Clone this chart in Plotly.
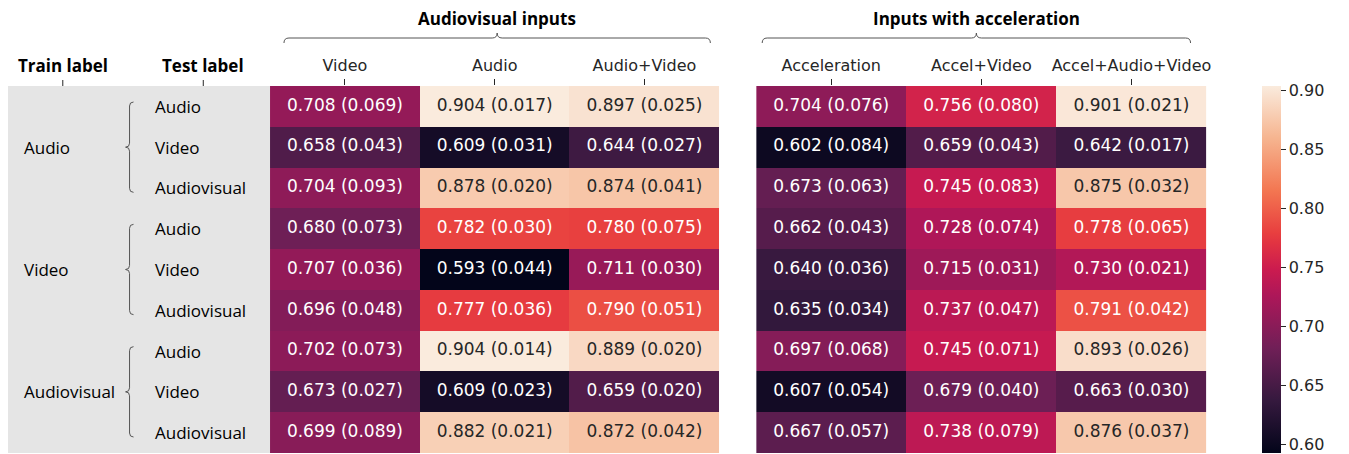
import plotly.graph_objects as go

# ---------------- data ----------------
cols_av = ["Video", "Audio", "Audio+Video"]
cols_acc = ["Acceleration", "Accel+Video", "Accel+Audio+Video"]
train_labels = ["Audio", "Video", "Audiovisual"]
test_labels = ["Audio", "Video", "Audiovisual"]
group_titles = ["Audiovisual inputs", "Inputs with acceleration"]

mean_av = [
    [0.708, 0.904, 0.897],
    [0.658, 0.609, 0.644],
    [0.704, 0.878, 0.874],
    [0.680, 0.782, 0.780],
    [0.707, 0.593, 0.711],
    [0.696, 0.777, 0.790],
    [0.702, 0.904, 0.889],
    [0.673, 0.609, 0.659],
    [0.699, 0.882, 0.872],
]
sd_av = [
    [0.069, 0.017, 0.025],
    [0.043, 0.031, 0.027],
    [0.093, 0.020, 0.041],
    [0.073, 0.030, 0.075],
    [0.036, 0.044, 0.030],
    [0.048, 0.036, 0.051],
    [0.073, 0.014, 0.020],
    [0.027, 0.023, 0.020],
    [0.089, 0.021, 0.042],
]
mean_acc = [
    [0.704, 0.756, 0.901],
    [0.602, 0.659, 0.642],
    [0.673, 0.745, 0.875],
    [0.662, 0.728, 0.778],
    [0.640, 0.715, 0.730],
    [0.635, 0.737, 0.791],
    [0.697, 0.745, 0.893],
    [0.607, 0.679, 0.663],
    [0.667, 0.738, 0.876],
]
sd_acc = [
    [0.076, 0.080, 0.021],
    [0.084, 0.043, 0.017],
    [0.063, 0.083, 0.032],
    [0.043, 0.074, 0.065],
    [0.036, 0.031, 0.021],
    [0.034, 0.047, 0.042],
    [0.068, 0.071, 0.026],
    [0.054, 0.040, 0.030],
    [0.057, 0.079, 0.037],
]
cbar_ticks = [0.60, 0.65, 0.70, 0.75, 0.80, 0.85, 0.90]

# ---------------- style ----------------
OFF = 8                      # default page body margin
W, H = 1349 - OFF, 454 - OFF  # figure size
ROW_TOP, ROW_BOT = 86, 453   # window pixel coords
N_ROWS = len(mean_av)
ROW_H = (ROW_BOT - ROW_TOP) / N_ROWS
LABEL_FONT = "Open Sans"
MPL_FONT = "DejaVu Sans"
rocket = [
    [0.0, "#03051a"], [1 / 7, "#35193e"], [2 / 7, "#701f57"],
    [3 / 7, "#ad1759"], [0.5, "#cb1b4f"], [4 / 7, "#e13342"],
    [0.6, "#e83f3f"], [5 / 7, "#f37651"],
    [6 / 7, "#f6b48f"], [1.0, "#faebdd"],
]
all_vals = [v for r in mean_av + mean_acc for v in r]
ZMIN, ZMAX = min(all_vals), max(all_vals)


def px(x):
    return (x - OFF) / W


def py(y):
    return 1 - (y - OFF) / H


fig = go.Figure()

xs = list(range(3))
ys = list(range(N_ROWS))


def add_block(means, sds, xaxis, show_scale):
    fig.add_trace(go.Heatmap(
        z=means, x=xs, y=ys, xaxis=xaxis, yaxis="y",
        colorscale=rocket, zmin=ZMIN, zmax=ZMAX,
        showscale=show_scale, hoverinfo="skip",
        colorbar=dict(
            thickness=19, thicknessmode="pixels",
            len=ROW_BOT - ROW_TOP, lenmode="pixels",
            x=px(1267), xanchor="left", y=py(ROW_TOP), yanchor="top",
            xpad=0, ypad=0,
            tickvals=cbar_ticks, ticktext=[f"{t:.2f}" for t in cbar_ticks],
            ticks="outside", ticklabeloverflow="allow",
            ticklen=5, tickcolor="#262626",
            tickfont=dict(family=MPL_FONT, size=16, color="#262626"),
            outlinewidth=0,
        ),
    ))
    tx, ty, tt, tc = [], [], [], []
    for i in range(N_ROWS):
        for j in range(3):
            tx.append(j)
            ty.append(i)
            tt.append(f"{means[i][j]:.3f} ({sds[i][j]:.3f})")
            norm = (means[i][j] - ZMIN) / (ZMAX - ZMIN)
            tc.append("#262626" if norm > 0.75 else "white")
    fig.add_trace(go.Scatter(
        x=tx, y=ty, xaxis=xaxis, yaxis="y", mode="text", text=tt,
        textfont=dict(family=MPL_FONT, size=17, color=tc),
        hoverinfo="skip", showlegend=False,
    ))


add_block(mean_av, sd_av, "x", True)
add_block(mean_acc, sd_acc, "x2", False)

axis_common = dict(
    side="top", tickmode="array", tickvals=xs, ticks="outside", ticklen=6,
    tickcolor="#262626", tickwidth=1, showgrid=False, zeroline=False,
    showline=False, range=[-0.5, 2.5], ticklabelstandoff=2,
    tickfont=dict(family=MPL_FONT, size=16, color="#262626"),
)
fig.update_layout(
    width=W, height=H,
    margin=dict(l=0, r=0, t=0, b=0),
    paper_bgcolor="white", plot_bgcolor="white",
    showlegend=False,
    xaxis=dict(domain=[px(271), px(722)], ticktext=cols_av, **axis_common),
    xaxis2=dict(domain=[px(759), px(1211)], ticktext=cols_acc, anchor="y",
                **axis_common),
    yaxis=dict(domain=[max(0, py(ROW_BOT)), py(ROW_TOP)],
               range=[N_ROWS - 0.5, -0.5],
               showticklabels=False, ticks="", showgrid=False,
               zeroline=False, showline=False),
)

shapes = []
annotations = []

# grey label panel
shapes.append(dict(type="rect", xref="paper", yref="paper",
                   x0=px(6), x1=px(271), y0=py(ROW_BOT), y1=py(ROW_TOP),
                   fillcolor="#e5e5e5", line=dict(width=0), layer="below"))

# header labels with ticks
for text, cx in [("Train label", 63), ("Test label", 204)]:
    annotations.append(dict(text=f"<b>{text}</b>", xref="paper", yref="paper",
                            x=px(cx), y=py(66), showarrow=False,
                            xanchor="center", yanchor="middle",
                            font=dict(family=LABEL_FONT, size=17, color="black")))
    shapes.append(dict(type="line", xref="paper", yref="paper",
                       x0=px(cx), x1=px(cx), y0=py(80), y1=py(86),
                       line=dict(color="#262626", width=1)))


def hbrace(x0, x1, y, d=5):
    xm = (x0 + x1) / 2
    pts = [
        f"M {px(x0)},{py(y + d)}",
        f"Q {px(x0)},{py(y)} {px(x0 + d)},{py(y)}",
        f"L {px(xm - d)},{py(y)}",
        f"Q {px(xm)},{py(y)} {px(xm)},{py(y - d)}",
        f"Q {px(xm)},{py(y)} {px(xm + d)},{py(y)}",
        f"L {px(x1 - d)},{py(y)}",
        f"Q {px(x1)},{py(y)} {px(x1)},{py(y + d)}",
    ]
    return " ".join(pts)


def vbrace(x, y0, y1, d=4):
    ym = (y0 + y1) / 2
    pts = [
        f"M {px(x + d)},{py(y0)}",
        f"Q {px(x)},{py(y0)} {px(x)},{py(y0 + d)}",
        f"L {px(x)},{py(ym - d)}",
        f"Q {px(x)},{py(ym)} {px(x - d)},{py(ym)}",
        f"Q {px(x)},{py(ym)} {px(x)},{py(ym + d)}",
        f"L {px(x)},{py(y1 - d)}",
        f"Q {px(x)},{py(y1)} {px(x + d)},{py(y1)}",
    ]
    return " ".join(pts)


# group titles and braces
for title, (bx0, bx1) in zip(group_titles, [(285, 713), (765, 1195)]):
    annotations.append(dict(text=f"<b>{title}</b>", xref="paper", yref="paper",
                            x=px((bx0 + bx1) / 2), y=py(19), showarrow=False,
                            xanchor="center", yanchor="middle",
                            font=dict(family=LABEL_FONT, size=17, color="black")))
    shapes.append(dict(type="path", xref="paper", yref="paper",
                       path=hbrace(bx0, bx1, 38),
                       line=dict(color="#555555", width=1)))

# row labels
for g, train in enumerate(train_labels):
    top = ROW_TOP + ROW_H * 3 * g
    mid = top + ROW_H * 1.5
    annotations.append(dict(text=train, xref="paper", yref="paper",
                            x=px(22), y=py(mid), showarrow=False,
                            xanchor="left", yanchor="middle",
                            font=dict(family=LABEL_FONT, size=17, color="black")))
    shapes.append(dict(type="path", xref="paper", yref="paper",
                       path=vbrace(130, top + 16, top + 3 * ROW_H - 16),
                       line=dict(color="#555555", width=1)))
    for k, test in enumerate(test_labels):
        annotations.append(dict(text=test, xref="paper", yref="y",
                                x=px(154), y=3 * g + k, showarrow=False,
                                xanchor="left", yanchor="middle",
                                font=dict(family=LABEL_FONT, size=17,
                                          color="black")))

fig.update_layout(shapes=shapes, annotations=annotations)
fig.write_html("out.html")
